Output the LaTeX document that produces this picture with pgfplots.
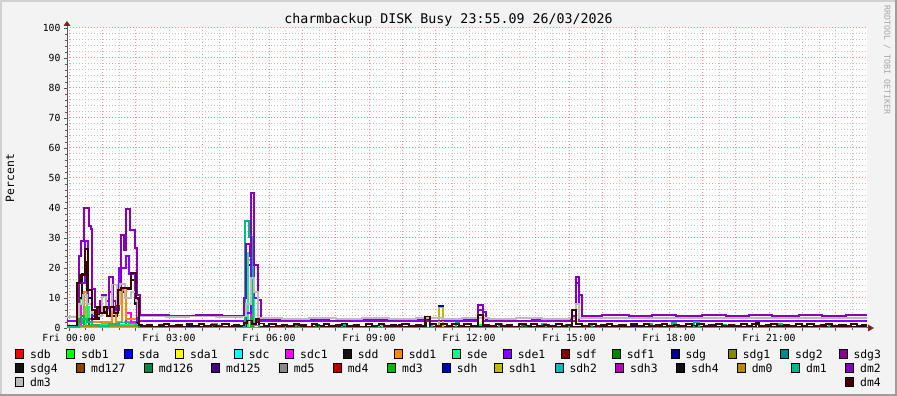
\documentclass[border=0pt]{standalone}
\usepackage{pgfplots}
\pgfplotsset{compat=1.18}
\usepackage{fontspec}
\setmainfont{DejaVu Sans Mono}
\setmonofont{DejaVu Sans Mono}

\definecolor{Csdb}{HTML}{FF0000}
\definecolor{Csdbi}{HTML}{00FF00}
\definecolor{Csda}{HTML}{0000FF}
\definecolor{Csdai}{HTML}{FFFF00}
\definecolor{Csdc}{HTML}{00FFFF}
\definecolor{Csdci}{HTML}{FF00FF}
\definecolor{Csdd}{HTML}{111111}
\definecolor{Csddi}{HTML}{FF8800}
\definecolor{Csde}{HTML}{00FF88}
\definecolor{Csdei}{HTML}{8800FF}
\definecolor{Csdf}{HTML}{880000}
\definecolor{Csdfi}{HTML}{008800}
\definecolor{Csdg}{HTML}{000088}
\definecolor{Csdgi}{HTML}{888800}
\definecolor{Csdgii}{HTML}{008888}
\definecolor{Csdgiii}{HTML}{880088}
\definecolor{Csdgiv}{HTML}{111111}
\definecolor{Cmdcxxvii}{HTML}{884400}
\definecolor{Cmdcxxvi}{HTML}{008844}
\definecolor{Cmdcxxv}{HTML}{440088}
\definecolor{Cmdv}{HTML}{888888}
\definecolor{Cmdiv}{HTML}{BB0000}
\definecolor{Cmdiii}{HTML}{00BB00}
\definecolor{Csdh}{HTML}{0000BB}
\definecolor{Csdhi}{HTML}{BBBB00}
\definecolor{Csdhii}{HTML}{00BBBB}
\definecolor{Csdhiii}{HTML}{BB00BB}
\definecolor{Csdhiv}{HTML}{111111}
\definecolor{Cdmo}{HTML}{BB8800}
\definecolor{Cdmi}{HTML}{00BB88}
\definecolor{Cdmii}{HTML}{8800BB}
\definecolor{Cdmiii}{HTML}{BBBBBB}
\definecolor{Cdmiv}{HTML}{440000}
\definecolor{bgc}{HTML}{F3F3F3}
\definecolor{arrowred}{HTML}{7F1F1F}
\definecolor{mgrid}{HTML}{FF8C8C}
\definecolor{ngrid}{HTML}{C4C4C4}

\begin{document}
\begin{tikzpicture}[x=1pt,y=1pt]
\useasboundingbox (0,0) rectangle (897,396);
\fill[bgc] (0,0) rectangle (897,396);
\fill[black!18] (0,394) rectangle (897,396);
\fill[black!18] (0,0) rectangle (2,396);
\fill[black!38] (0,0) rectangle (897,2);
\fill[black!38] (895,0) rectangle (897,396);

\begin{axis}[
  at={(67pt,68pt)}, anchor=south west,
  scale only axis, width=800pt, height=300pt,
  xmin=-0.06, xmax=23.94, ymin=0, ymax=100,
  axis x line=bottom, axis y line=left,
  axis line style={-, draw=black!65, line width=1pt},
  axis background/.style={fill=white},
  xtick={0,1,...,23},
  xticklabels={Fri 00:00,,,Fri 03:00,,,Fri 06:00,,,Fri 09:00,,,Fri 12:00,,,Fri 15:00,,,Fri 18:00,,,Fri 21:00,,},
  minor xtick={0.5,1.5,...,23.5},
  ytick={0,10,...,100},
  minor ytick={2,4,6,8,12,14,16,18,22,24,26,28,32,34,36,38,42,44,46,48,52,54,56,58,62,64,66,68,72,74,76,78,82,84,86,88,92,94,96,98},
  grid=both,
  major grid style={draw=mgrid, line width=1pt, dash pattern=on 1.2pt off 1.8pt},
  minor grid style={draw=ngrid, line width=1pt, dash pattern=on 1.2pt off 1.8pt},
  tick align=outside,
  major tick length=3pt, minor tick length=2pt,
  tick style={draw=black!65, line width=0.8pt},
  tick label style={font=\fontsize{9.8}{10}\selectfont},
  /pgf/number format/assume math mode=true,
  ylabel={Percent},
  ylabel style={font=\fontsize{11.4}{12}\selectfont, at={(axis description cs:-0.0713,0.5)}, anchor=center},
  every axis plot/.append style={const plot, line width=1.8pt, line join=miter, no markers},
  clip=true,
]
% sdb1
\addplot[Csdbi] coordinates {(-0.06,0)(0.25,6)(0.33,9.5)(0.45,4)(0.55,2)(0.7,1)(1.0,1.5)(1.4,1)(1.7,2)(2.1,0)(5.45,2)(5.55,0)(12.3,1)(12.4,0)(23.94,0)};
% sdc1
\addplot[Csdci] coordinates {(-0.06,0)(0.35,8)(0.42,12)(0.55,3)(0.7,1)(1.7,5)(1.85,2)(2.1,0)(5.45,6)(5.55,0)(23.94,0)};
% sdd
\addplot[Csdd] coordinates {(-0.06,0.5)(0.3,10)(0.4,18)(0.5,22)(0.55,10)(0.7,3)(0.9,5)(1.1,6)(1.3,4)(1.45,12)(1.7,13)(1.85,16)(1.98,8)(2.05,0.5)(5.3,8)(5.38,21)(5.46,17)(5.55,2)(5.7,0.5)(10.7,3)(10.83,0.5)(20.6,1.8)(20.7,0.5)(23.94,0.5)};
% sdd1
\addplot[Csddi] coordinates {(-0.06,0)(0.45,12)(0.55,2)(1.3,9)(1.4,2)(1.6,12.7)(1.7,3)(2.1,0)(5.38,22.7)(5.46,12)(5.56,0)(23.94,0)};
% sde
\addplot[Csde] coordinates {(-0.06,0)(0.5,7)(0.6,1)(2.1,0)(5.38,25)(5.46,18)(5.56,0)(9.3,1.2)(9.4,0)(23.94,0)};
% sde1
\addplot[Csdei] coordinates {(-0.06,2.4)(0.28,15)(0.48,29)(0.57,8)(0.7,4)(1.0,6)(1.21,12)(1.33,6)(1.5,20)(1.71,24)(1.8,18)(1.98,10)(2.05,2.4)(5.3,5)(5.46,24)(5.56,10)(5.66,2.4)(12.28,6)(12.41,2.4)(15.2,15)(15.3,2.4)(23.94,2.4)};
% sdf1
\addplot[Csdfi] coordinates {(-0.06,0)(0.45,3)(0.6,0)(7.4,0.9)(7.5,0)(13.6,0.8)(13.7,0)(23.94,0)};
% sdg
\addplot[Csdg] coordinates {(-0.06,0)(3.6,0.8)(3.7,0)(9.9,0.9)(10.0,0)(16.9,0.8)(17.0,0)(23.94,0)};
% md3
\addplot[Cmdiii] coordinates {(-0.06,0)(0.3,4)(0.45,0)(5.45,3)(5.52,0)(6.8,0.9)(6.9,0)(14.9,1.0)(15.0,0)(23.94,0)};
% sdh
\addplot[Csdh] coordinates {(-0.06,0)(4.9,0.8)(5.0,0)(11.1,7.3)(11.23,0)(19.2,0.9)(19.3,0)(23.94,0)};
% sdh1
\addplot[Csdhi] coordinates {(-0.06,0)(11.1,6.8)(11.23,0)(23.94,0)};
% dm0
\addplot[Cdmo] coordinates {(-0.06,0)(0.3,0.6)(2.1,0)(23.94,0)};
% dm1
\addplot[Cdmi] coordinates {(-0.06,0.4)(0.3,1.5)(0.4,3)(0.55,2)(0.7,1)(0.9,0.5)(1.2,1.2)(1.5,1.8)(1.8,1.5)(2.0,0.8)(2.1,0)(4.3,1.2)(4.45,0)(5.25,0.5)(5.28,35.7)(5.41,30.4)(5.52,0.8)(5.7,0)(6.4,1)(6.5,0)(8.2,0.9)(8.3,0)(10.9,1.3)(11.0,0)(11.6,1.6)(11.7,0)(12.9,1.2)(13.0,0)(14.2,1.5)(14.3,0)(15.6,1.0)(15.7,0)(17.4,1.2)(17.5,0)(18.1,1.6)(18.2,0)(18.75,2.1)(18.9,0)(19.6,1.1)(19.7,0)(21.3,1.4)(21.4,0)(22.8,1.0)(22.9,0)(23.94,0)};
% dm2
\addplot[Cdmii] coordinates {(-0.06,3.8)(0.30,24)(0.37,29)(0.45,40)(0.6,34)(0.65,33)(0.7,13)(0.78,7)(0.86,5)(0.93,9)(1.0,11)(1.1,9)(1.21,17)(1.33,9)(1.4,6)(1.5,14)(1.55,31)(1.65,26)(1.71,39.7)(1.83,32.7)(1.98,26.7)(2.05,11)(2.12,4.2)(3.0,4.0)(3.8,4.2)(4.6,4.0)(5.25,10)(5.3,28)(5.42,24)(5.46,45)(5.56,21)(5.66,9.3)(5.75,3.0)(6.3,2.6)(7.0,2.8)(7.8,2.5)(8.5,2.8)(9.3,2.6)(10.0,2.8)(10.7,2.5)(11.3,2.8)(12.28,7.7)(12.41,5.4)(12.5,2.7)(13.2,2.5)(13.9,2.8)(14.5,2.6)(15.1,4)(15.2,17)(15.3,11)(15.38,4.1)(16.0,4.3)(16.8,4.0)(17.5,4.3)(18.2,4.0)(19.0,4.3)(19.7,4.0)(20.4,4.3)(21.1,4.0)(21.9,4.3)(22.6,4.0)(23.3,4.3)(23.94,4.3)};
% dm3
\addplot[Cdmiii] coordinates {(-0.06,3.6)(0.3,8)(0.42,11)(0.55,8)(0.7,5)(0.85,4)(1.0,10.5)(1.1,6)(1.3,14.5)(1.45,8)(1.53,14.6)(1.68,10)(1.85,12)(2.0,9)(2.08,3.8)(2.9,3.6)(3.6,3.8)(4.4,3.6)(5.2,3.8)(5.3,8)(5.45,16.7)(5.56,12)(5.66,3.3)(6.4,3.1)(7.2,3.3)(8.0,3.0)(8.8,3.3)(9.6,3.1)(10.4,3.3)(11.2,3.1)(11.8,3.4)(12.6,3.1)(13.4,3.3)(14.2,3.1)(15.0,3.3)(15.2,8)(15.3,3.4)(16.2,3.2)(17.0,3.4)(17.8,3.2)(18.6,3.4)(19.4,3.2)(20.2,3.4)(21.0,3.2)(21.8,3.4)(22.6,3.2)(23.4,3.4)(23.94,3.4)};
% dm4
\addplot[Cdmiv] coordinates {(-0.06,0.8)(0.24,15)(0.33,17.7)(0.48,26.3)(0.57,12.7)(0.69,6)(0.78,3)(0.85,7)(0.93,5)(1.05,7)(1.15,4)(1.23,7)(1.35,5)(1.47,12.7)(1.56,13.3)(1.86,18.3)(2.01,10)(2.1,1.0)
(2.2,0.6)(2.35,1.1)(2.5,0.5)(2.7,0.9)(2.85,1.3)(3.0,0.7)(3.2,1.0)(3.4,0.5)(3.55,1.2)(3.7,0.8)(3.9,1.4)(4.05,0.6)(4.25,1.0)(4.4,0.7)(4.6,1.3)(4.8,0.5)(4.95,1.0)(5.1,0.8)(5.25,1.6)(5.35,2.5)(5.5,1.2)(5.6,3.0)(5.7,1.5)(5.85,0.8)(6.0,1.3)(6.2,0.6)(6.4,1.1)(6.55,0.7)(6.75,1.4)(6.9,0.9)(7.1,0.5)(7.3,1.2)(7.45,0.8)(7.65,1.3)(7.8,0.6)(8.0,1.0)(8.2,1.5)(8.35,0.7)(8.55,1.1)(8.7,0.5)(8.9,1.2)(9.1,0.8)(9.3,1.4)(9.45,0.6)(9.65,1.0)(9.8,0.7)(10.0,1.3)(10.2,0.6)(10.4,1.1)(10.55,0.8)(10.68,3.8)(10.83,1.2)(11.0,0.6)(11.15,1.3)(11.35,0.7)(11.5,1.2)(11.7,0.6)(11.85,1.4)(12.05,0.8)(12.28,4.3)(12.41,1.0)(12.6,0.6)(12.8,1.3)(12.95,0.7)(13.15,1.1)(13.3,0.5)(13.5,1.2)(13.7,0.8)(13.85,1.4)(14.05,0.6)(14.25,1.0)(14.4,0.7)(14.6,1.3)(14.8,0.6)(14.95,1.1)(15.1,6.0)(15.22,1.3)(15.4,0.7)(15.6,1.2)(15.8,0.6)(15.95,1.0)(16.15,1.4)(16.3,0.7)(16.5,1.1)(16.7,0.5)(16.85,1.2)(17.05,0.8)(17.25,1.3)(17.4,0.6)(17.6,1.0)(17.8,1.4)(17.95,0.7)(18.15,1.1)(18.3,0.6)(18.5,1.3)(18.7,0.8)(18.85,1.2)(19.05,0.6)(19.25,1.0)(19.4,1.4)(19.6,0.7)(19.8,1.1)(19.95,0.6)(20.15,1.3)(20.35,0.8)(20.5,1.2)(20.7,0.6)(20.9,1.0)(21.05,1.4)(21.25,0.7)(21.45,1.1)(21.6,0.6)(21.8,1.3)(22.0,0.8)(22.15,1.2)(22.35,0.6)(22.55,1.0)(22.7,1.4)(22.9,0.7)(23.1,1.1)(23.3,0.6)(23.45,1.3)(23.65,0.8)(23.8,1.1)(23.94,1.1)};
\end{axis}

% axis arrows
\draw[black!65, line width=1pt] (67,368) -- (67,371);
\fill[arrowred] (63.5,370) -- (70.5,370) -- (67,375) -- cycle;
\draw[black!65, line width=1pt] (867,68) -- (869,68);
\fill[arrowred] (868,64.5) -- (868,71.5) -- (874,68) -- cycle;

% title
\node[font=\fontsize{13.3}{14}\selectfont, anchor=base] at (448.5,372) {charmbackup DISK Busy 23:55.09 26/03/2026};
% watermark
\node[font=\fontsize{8.3}{9}\selectfont, text=black!35, rotate=-90, anchor=center] at (887,336) {RRDTOOL / TOBI OETIKER};

% legend
\foreach \x/\y/\c/\t in {
15.7/42/Csdb/sdb, 66.7/42/Csdbi/sdb1, 124.3/42/Csda/sda, 175.7/42/Csdai/sda1,
234.3/42/Csdc/sdc, 285.7/42/Csdci/sdc1, 343.3/42/Csdd/sdd, 394.3/42/Csddi/sdd1,
452.3/42/Csde/sde, 503.3/42/Csdei/sde1, 561.7/42/Csdf/sdf, 612.3/42/Csdfi/sdf1,
671/42/Csdg/sdg, 728.3/42/Csdgi/sdg1, 780.7/42/Csdgii/sdg2, 839/42/Csdgiii/sdg3,
15.7/28/Csdgiv/sdg4, 76.7/28/Cmdcxxvii/md127, 144.3/28/Cmdcxxvi/md126, 211.7/28/Cmdcxxv/md125,
279.3/28/Cmdv/md5, 333.3/28/Cmdiv/md4, 387.7/28/Cmdiii/md3, 442.3/28/Csdh/sdh,
494.3/28/Csdhi/sdh1, 555/28/Csdhii/sdh2, 615.7/28/Csdhiii/sdh3, 676.7/28/Csdhiv/sdh4,
737.3/28/Cdmo/dm0, 791.7/28/Cdmi/dm1, 845.7/28/Cdmii/dm2,
15.7/14/Cdmiii/dm3, 845.7/14/Cdmiv/dm4}{
  \filldraw[fill=\c, draw=black, line width=0.9pt] (\x,\y-4.1) rectangle (\x+8,\y+4.1);
  \node[font=\fontsize{11.4}{12}\selectfont, anchor=base west, inner sep=0pt] at (\x+14.3,\y-4.2) {\t};
}
\end{tikzpicture}
\end{document}
